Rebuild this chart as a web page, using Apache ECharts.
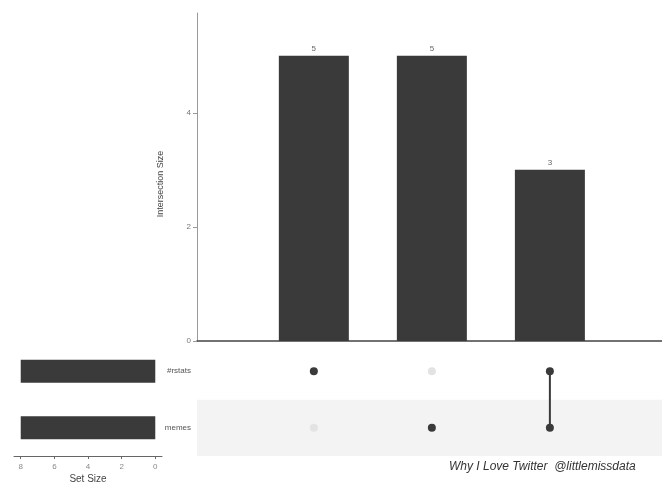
<!DOCTYPE html>
<html>
<head>
<meta charset="utf-8">
<script src="https://cdn.jsdelivr.net/npm/echarts@6/dist/echarts.min.js"></script>
<style>html,body{margin:0;padding:0;background:#fff}#c{width:662px;height:483px}</style>
</head>
<body>
<div id="c"></div>
<script>
// ---- data ----
const setNames = ['#rstats', 'memes'];
const setSizes = [8, 8];
const intersectionSizes = [5, 5, 3];
const memberRstats = [1, 0, 1];
const memberMemes = [0, 1, 1];
const intersectionTicks = [0, 2, 4];
const setSizeTicks = [0, 2, 4, 6, 8];
const caption = 'Why I Love Twitter  @littlemissdata';

const membership = { '#rstats': memberRstats, 'memes': memberMemes };
const matrixRows = ['memes', '#rstats']; // bottom to top

const DARK = '#3a3a3a';
const LIGHT = '#e3e3e3';
const FONT = 'Liberation Sans, Arial, sans-serif';

const barData = intersectionSizes.map((v, i) => [i, v]);
const inactive = [], active = [];
intersectionSizes.forEach((_, i) => {
  setNames.forEach(s => {
    (membership[s][i] ? active : inactive).push([i, s]);
  });
});
const lineSeries = [];
intersectionSizes.forEach((_, i) => {
  const members = setNames.filter(s => membership[s][i]);
  if (members.length > 1) {
    lineSeries.push({
      type: 'line', xAxisIndex: 1, yAxisIndex: 1, symbol: 'none', silent: true,
      data: members.map(s => [i, s]),
      lineStyle: { color: DARK, width: 2 }, z: 3
    });
  }
});

const chart = echarts.init(document.getElementById('c'), null, { renderer: 'canvas' });
chart.setOption({
  animation: false,
  backgroundColor: '#fff',
  textStyle: { fontFamily: FONT },
  grid: [
    { left: 197, top: 13, right: 0, height: 328, outerBoundsMode: 'none' },
    { left: 197, top: 343, right: 0, height: 113, outerBoundsMode: 'none' },
    { left: 14, top: 343, width: 148, height: 113, outerBoundsMode: 'none' }
  ],
  xAxis: [
    { gridIndex: 0, type: 'value', min: -0.99, max: 2.95,
      axisLine: { show: true, onZero: false, lineStyle: { color: '#444', width: 1.5 } },
      axisTick: { show: false }, axisLabel: { show: false }, splitLine: { show: false } },
    { gridIndex: 1, type: 'value', min: -0.99, max: 2.95, show: false },
    { gridIndex: 2, type: 'value', min: -0.4, max: 8.4, inverse: true,
      axisLine: { show: true, onZero: false, lineStyle: { color: '#666', width: 1 } },
      axisTick: { show: true, length: 3, lineStyle: { color: '#666' },
        customValues: setSizeTicks },
      axisLabel: { color: '#888', fontSize: 8, margin: 7, customValues: setSizeTicks },
      splitLine: { show: false },
      name: 'Set Size', nameLocation: 'middle', nameGap: 18,
      nameTextStyle: { color: '#444', fontSize: 10 } }
  ],
  yAxis: [
    { gridIndex: 0, type: 'value', min: 0, max: 5.75,
      axisLine: { show: true, onZero: false, lineStyle: { color: '#999', width: 1 } },
      axisTick: { show: true, length: 4, lineStyle: { color: '#999' }, customValues: intersectionTicks },
      axisLabel: { color: '#777', fontSize: 8, margin: 6, customValues: intersectionTicks },
      splitLine: { show: false },
      name: 'Intersection Size', nameLocation: 'middle', nameGap: 32,
      nameTextStyle: { color: '#444', fontSize: 9, padding: [0, 14, 0, 0] } },
    { gridIndex: 1, type: 'category', data: matrixRows,
      axisLine: { show: false }, axisTick: { show: false },
      axisLabel: { color: '#555', fontSize: 8, margin: 6 },
      splitArea: { show: true, areaStyle: { color: ['#f3f3f3', '#ffffff'] } } },
    { gridIndex: 2, type: 'category', data: matrixRows, show: false }
  ],
  series: [
    { type: 'bar', xAxisIndex: 0, yAxisIndex: 0, data: barData, barWidth: 70,
      itemStyle: { color: DARK },
      label: { show: true, position: 'top', distance: 3, color: '#666', fontSize: 8 } },
    { type: 'scatter', xAxisIndex: 1, yAxisIndex: 1, data: inactive, symbolSize: 8,
      itemStyle: { color: LIGHT, opacity: 1 }, z: 2 },
    ...lineSeries,
    { type: 'scatter', xAxisIndex: 1, yAxisIndex: 1, data: active, symbolSize: 8,
      itemStyle: { color: DARK, opacity: 1 }, z: 4 },
    { type: 'bar', xAxisIndex: 2, yAxisIndex: 2, barWidth: 23,
      data: matrixRows.map(s => setSizes[setNames.indexOf(s)]),
      itemStyle: { color: DARK } }
  ],
  graphic: [
    { type: 'text', left: 449, top: 461,
      style: { text: caption, fill: '#333', font: 'italic 12px ' + FONT } }
  ]
});
</script>
</body>
</html>
